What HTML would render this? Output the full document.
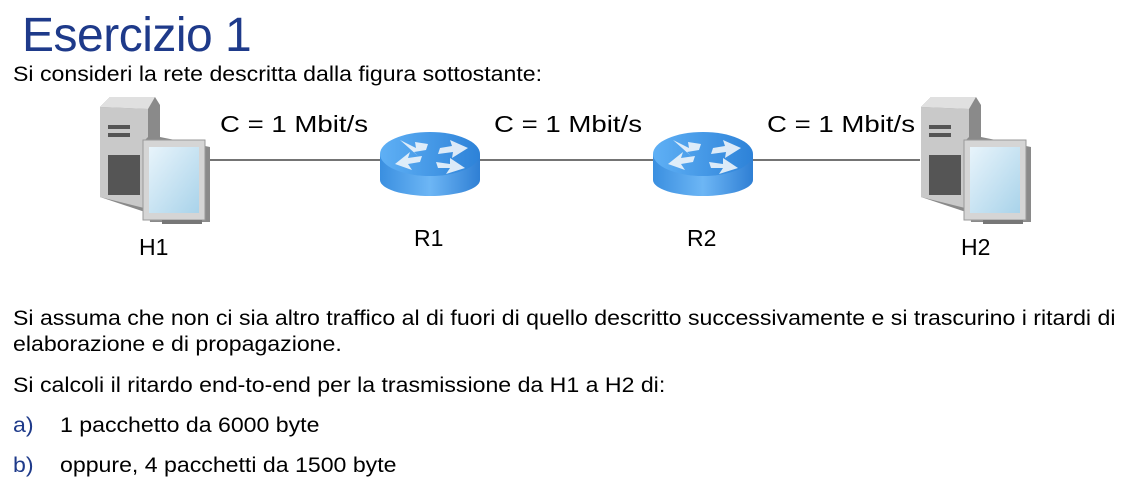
<!DOCTYPE html>
<html><head><meta charset="utf-8"><style>
body{margin:0;width:1128px;height:504px;background:#fff;position:relative;overflow:hidden;font-family:"Liberation Sans",sans-serif;color:#000}
.t{position:absolute;white-space:nowrap;transform-origin:0 0}
.p{font-size:21px;transform:scaleX(1.1)}
.l{font-size:23px}
.c{font-size:23px;transform:scaleX(1.2)}
</style></head><body>
<div class="t" style="left:22px;top:8px;font-size:48px;color:#1e3a8a;letter-spacing:-0.5px">Esercizio 1</div>
<div class="t p" style="left:13px;top:63px">Si consideri la rete descritta dalla figura sottostante:</div>
<svg width="1128" height="504" style="position:absolute;left:0;top:0">
<defs>
<linearGradient id="rb" x1="0" x2="1"><stop offset="0" stop-color="#3a8fe0"/><stop offset="0.5" stop-color="#6db6f5"/><stop offset="1" stop-color="#2f7fd4"/></linearGradient>
<linearGradient id="rt" x1="0" x2="1"><stop offset="0" stop-color="#5fb0f5"/><stop offset="1" stop-color="#2d82d8"/></linearGradient>
<linearGradient id="sc" x1="0" y1="0" x2="1" y2="1"><stop offset="0" stop-color="#e8f4fb"/><stop offset="1" stop-color="#a9d3ea"/></linearGradient>
<g id="pc">
<polygon points="0,10 10,0 55,0 60,8 60,105 45,115 0,100" fill="#8a8a8a"/>
<polygon points="0,10 48,12 48,112 0,100" fill="#c9c9c9"/>
<polygon points="0,10 10,0 55,0 48,12" fill="#e0e0e0"/>
<rect x="8" y="28" width="22" height="4" fill="#555"/><rect x="8" y="36" width="22" height="4" fill="#555"/>
<rect x="8" y="58" width="32" height="40" fill="#555"/>
<polygon points="43,45 50,38 110,50 110,125 50,125" fill="#8a8a8a"/>
<rect x="43" y="43" width="62" height="80" fill="#d5d5d5" stroke="#999"/>
<rect x="49" y="50" width="50" height="66" fill="url(#sc)"/>
<rect x="62" y="123" width="40" height="4" fill="#777"/>
</g>
<g id="rt1">
<path d="M0,14 L0,40 A50,16 0 0 0 100,40 L100,14 Z" fill="url(#rb)"/>
<ellipse cx="50" cy="14" rx="50" ry="22" fill="url(#rt)"/>
<g fill="#eef5fb" opacity="0.9">
<polygon points="15,24 30,12 28,18 42,16 40,22 28,24 32,30"/>
<polygon points="88,8 72,18 73,12 58,14 60,8 72,6 70,0"/>
<polygon points="85,28 70,18 70,24 56,22 58,28 70,28 66,34"/>
<polygon points="20,0 36,8 35,2 48,4 46,10 34,12 38,16"/>
</g>
</g>
</defs>
<g stroke="#222" stroke-width="1.3">
<line x1="210" y1="160" x2="380" y2="160"/><line x1="480" y1="160" x2="655" y2="160"/><line x1="753" y1="160" x2="920" y2="160"/>
</g>
<use href="#pc" x="100" y="97"/>
<use href="#pc" x="921" y="97"/>
<use href="#rt1" x="380" y="140"/>
<use href="#rt1" x="653" y="140"/>
</svg>
<div class="t c" style="left:220px;top:111px">C = 1 Mbit/s</div>
<div class="t c" style="left:494px;top:111px">C = 1 Mbit/s</div>
<div class="t c" style="left:767px;top:111px">C = 1 Mbit/s</div>
<div class="t l" style="left:139px;top:234px">H1</div>
<div class="t l" style="left:414px;top:225px">R1</div>
<div class="t l" style="left:687px;top:225px">R2</div>
<div class="t l" style="left:961px;top:234px">H2</div>
<div class="t p" style="left:13px;top:307px">Si assuma che non ci sia altro traffico al di fuori di quello descritto successivamente e si trascurino i ritardi di</div>
<div class="t p" style="left:13px;top:333px">elaborazione e di propagazione.</div>
<div class="t p" style="left:13px;top:374px">Si calcoli il ritardo end-to-end per la trasmissione da H1 a H2 di:</div>
<div class="t p" style="left:13px;top:414px"><span style="color:#1e3a8a">a)</span></div>
<div class="t p" style="left:60px;top:414px">1 pacchetto da 6000 byte</div>
<div class="t p" style="left:13px;top:454px"><span style="color:#1e3a8a">b)</span></div>
<div class="t p" style="left:60px;top:454px">oppure, 4 pacchetti da 1500 byte</div>
</body></html>
